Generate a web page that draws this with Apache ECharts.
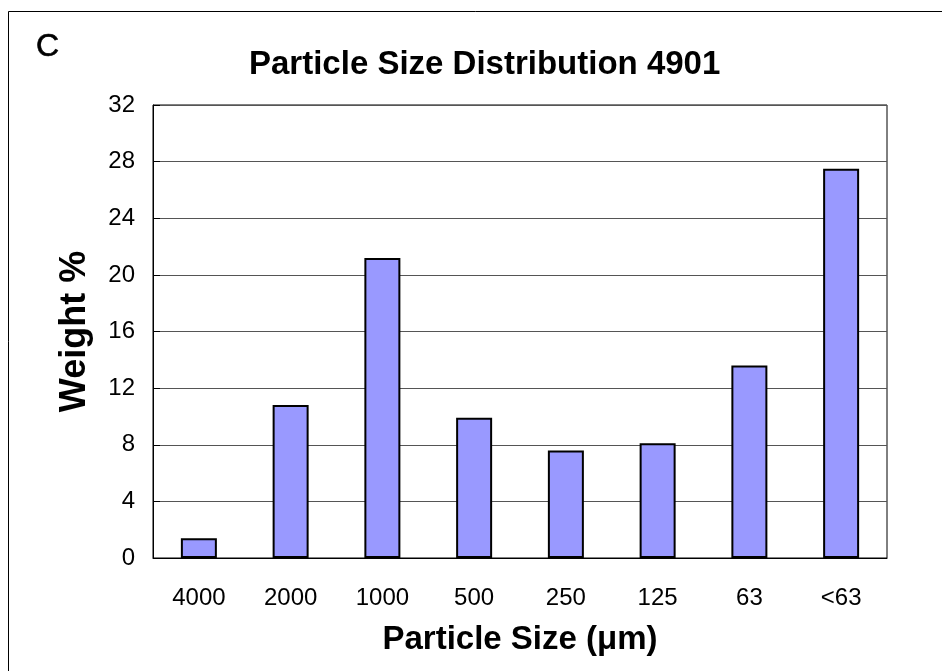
<!DOCTYPE html>
<html>
<head>
<meta charset="utf-8">
<script src="https://cdn.jsdelivr.net/npm/echarts@6/dist/echarts.min.js"></script>
<style>
html,body{margin:0;padding:0;background:#fff;}
#chart{width:942px;height:671px;}
</style>
</head>
<body>
<div id="chart"></div>
<script>
const categories = ['4000', '2000', '1000', '500', '250', '125', '63', '<63'];
const weightPct = [1.4, 10.8, 21.2, 9.9, 7.6, 8.1, 13.6, 27.5];
const yTicks = [0, 4, 8, 12, 16, 20, 24, 28, 32];
const titleText = 'Particle Size Distribution 4901';
const panelLabel = 'C';
const xName = 'Particle Size (\u03bcm)';
const yName = 'Weight %';

const FONT = '"Liberation Sans", Arial, sans-serif';
const chart = echarts.init(document.getElementById('chart'), null, {renderer: 'canvas'});
chart.setOption({
  backgroundColor: '#ffffff',
  animation: false,
  title: [{
    text: titleText,
    left: 244, top: 43,
    textStyle: {fontFamily: FONT, fontSize: 33, fontWeight: 'bold', color: '#000'}
  }, {
    text: panelLabel,
    left: 31, top: 26,
    textStyle: {fontFamily: FONT, fontSize: 32, fontWeight: 'normal', color: '#000', textBorderColor: '#000', textBorderWidth: 0.6}
  }],
  graphic: [{
    type: 'rect',
    shape: {x: 8.5, y: 11.5, width: 1000, height: 1000},
    style: {fill: 'none', stroke: '#000', lineWidth: 1},
    silent: true
  }],
  grid: {left: 153, top: 105, right: 55, bottom: 113, show: true, borderColor: '#000', borderWidth: 1, backgroundColor: 'transparent'},
  xAxis: {
    type: 'category',
    data: categories,
    axisLine: {lineStyle: {color: '#000', width: 1}},
    axisTick: {show: false},
    axisLabel: {fontFamily: FONT, fontSize: 24, color: '#000', margin: 28},
    name: xName,
    nameLocation: 'middle',
    nameGap: 65,
    nameTextStyle: {fontFamily: FONT, fontSize: 33, fontWeight: 'bold', color: '#000'}
  },
  yAxis: {
    type: 'value',
    min: yTicks[0], max: yTicks[yTicks.length - 1], interval: yTicks[1] - yTicks[0],
    axisLine: {show: true, lineStyle: {color: '#000', width: 1}},
    axisTick: {show: true, inside: true, length: 7, lineStyle: {color: '#000', width: 1}},
    splitLine: {show: true, lineStyle: {color: '#555', width: 1}},
    axisLabel: {fontFamily: FONT, fontSize: 24, color: '#000', margin: 18},
    name: yName,
    nameLocation: 'middle',
    nameGap: 60,
    nameRotate: 90,
    nameTextStyle: {fontFamily: FONT, fontSize: 36, fontWeight: 'bold', color: '#000'}
  },
  series: [{
    type: 'bar',
    data: weightPct,
    barWidth: 36,
    itemStyle: {color: '#9999FF', borderColor: '#000', borderWidth: 2}
  }]
});
</script>
</body>
</html>
